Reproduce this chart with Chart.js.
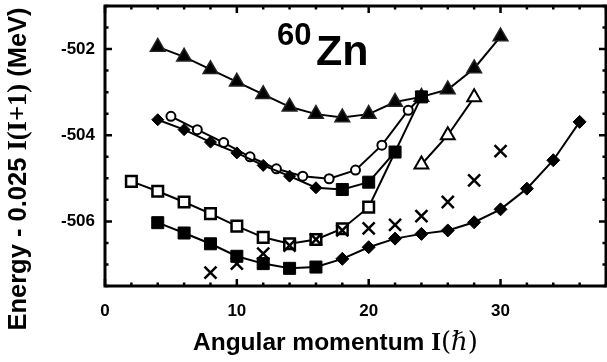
<!DOCTYPE html>
<html>
<head>
<meta charset="utf-8">
<script src="https://cdn.jsdelivr.net/npm/chart.js@4.4.0/dist/chart.umd.min.js"></script>
<style>
  html, body { margin: 0; padding: 0; background: #fff; }
</style>
</head>
<body>
<canvas id="zn60" width="607" height="362"></canvas>
<script>
// 60Zn bands: spin I (hbar) vs E - 0.025 I(I+1) (MeV)
const spinTri = [4, 6, 8, 10, 12, 14, 16, 18, 20, 22, 24, 26, 28, 30];
const energyTri = [-501.95, -502.18, -502.47, -502.76, -503.05, -503.34, -503.51, -503.59, -503.51, -503.23, -503.11, -502.94, -502.45, -501.71];

// upper band: diamonds up to 16, filled squares above
const spinUpperDia = [4, 6, 8, 10, 12, 14, 16];
const energyUpperDia = [-503.64, -503.87, -504.16, -504.41, -504.70, -504.95, -505.22];
const spinUpperSq = [18, 20, 22, 24];
const energyUpperSq = [-505.26, -505.09, -504.39, -503.11];

const spinCirc = [5, 7, 9, 11, 13, 15, 17, 19, 21, 23];
const energyCirc = [-503.56, -503.87, -504.17, -504.50, -504.78, -504.95, -505.01, -504.81, -504.23, -503.42];
const circJoin = 24;   // open circles run into the upper band here

const spinOpenSq = [2, 4, 6, 8, 10, 12, 14, 16, 18, 20];
const energyOpenSq = [-505.07, -505.30, -505.55, -505.82, -506.11, -506.37, -506.52, -506.42, -506.17, -505.67];
const openSqJoin = 22;

// lower band: filled squares up to 16, diamonds above
const spinLowerSq = [4, 6, 8, 10, 12, 14, 16];
const energyLowerSq = [-506.03, -506.27, -506.52, -506.81, -506.98, -507.09, -507.06];
const spinLowerDia = [18, 20, 22, 24, 26, 28, 30, 32, 34, 36];
const energyLowerDia = [-506.87, -506.60, -506.40, -506.29, -506.21, -506.02, -505.72, -505.24, -504.58, -503.69];

const spinCross = [8, 10, 12, 14, 16, 18, 20, 22, 24, 26, 28, 30];
const energyCross = [-507.19, -506.98, -506.75, -506.56, -506.42, -506.21, -506.16, -506.08, -505.88, -505.55, -505.05, -504.37];

const spinOpenTri = [24, 26, 28];
const energyOpenTri = [-504.68, -504.00, -503.12];

const xTicks = [0, 10, 20, 30];
const yTicks = [-506, -504, -502];

function pts(xs, ys) {
  return xs.map((x, i) => ({ x: x, y: ys[i] }));
}

const upperBand = pts(spinUpperDia, energyUpperDia).concat(pts(spinUpperSq, energyUpperSq));
const lowerBand = pts(spinLowerSq, energyLowerSq).concat(pts(spinLowerDia, energyLowerDia));
const circBand = pts(spinCirc, energyCirc).concat([{ x: circJoin, y: energyUpperSq[spinUpperSq.indexOf(circJoin)] }]);
const openSqBand = pts(spinOpenSq, energyOpenSq).concat([{ x: openSqJoin, y: energyUpperSq[spinUpperSq.indexOf(openSqJoin)] }]);

const styleFor = (n, a, b, split) => Array.from({ length: n }, (_, i) => i < split ? a : b);

const datasets = [
  {
    data: pts(spinCross, energyCross), showLine: false,
    pointStyle: 'crossRot', pointRadius: 8.5, pointBorderWidth: 2.5,
    pointBorderColor: '#000', order: 1
  },
  {
    data: pts(spinTri, energyTri),
    pointStyle: 'triangle', pointRadius: 8.5, pointBorderWidth: 1.5,
    pointBackgroundColor: '#000', pointBorderColor: '#222', order: 3
  },
  {
    data: upperBand,
    pointStyle: styleFor(upperBand.length, 'rectRot', 'rect', spinUpperDia.length),
    pointRadius: styleFor(upperBand.length, 6, 8.5, spinUpperDia.length),
    pointBorderWidth: 1, pointBackgroundColor: '#000', pointBorderColor: '#000', order: 2
  },
  {
    data: circBand,
    pointStyle: 'circle',
    pointRadius: circBand.map((p, i) => i < spinCirc.length ? 4.5 : 0),
    pointBorderWidth: 2, pointBackgroundColor: '#fff', pointBorderColor: '#000', order: 4
  },
  {
    data: openSqBand,
    pointStyle: 'rect',
    pointRadius: openSqBand.map((p, i) => i < spinOpenSq.length ? 7.5 : 0),
    pointBorderWidth: 2.5, pointBackgroundColor: '#fff', pointBorderColor: '#000', order: 5
  },
  {
    data: lowerBand,
    pointStyle: styleFor(lowerBand.length, 'rect', 'rectRot', spinLowerSq.length),
    pointRadius: styleFor(lowerBand.length, 8.5, 6.5, spinLowerSq.length),
    pointBorderWidth: 1, pointBackgroundColor: '#000', pointBorderColor: '#000', order: 6
  },
  {
    data: pts(spinOpenTri, energyOpenTri),
    pointStyle: 'triangle', pointRadius: 8, pointBorderWidth: 2,
    pointBackgroundColor: '#fff', pointBorderColor: '#000', order: 7
  }
];
datasets.forEach(d => {
  d.borderColor = '#000';
  d.borderWidth = 2;
  d.tension = 0;
  d.pointHoverRadius = d.pointRadius;
});

// draw a run of differently styled text pieces one after another
function textRun(ctx, parts, x, y) {
  parts.forEach(([t, f]) => {
    ctx.font = f;
    ctx.fillText(t, x, y);
    x += ctx.measureText(t).width;
  });
}
function runWidth(ctx, parts) {
  let w = 0;
  parts.forEach(([t, f]) => { ctx.font = f; w += ctx.measureText(t).width; });
  return w;
}

// frame with inward ticks on all four sides, title and axis captions
const frameAndText = {
  id: 'frameAndText',
  afterDraw(chart) {
    const ctx = chart.ctx;
    const a = chart.chartArea;
    const xs = chart.scales.x, ys = chart.scales.y;
    ctx.save();
    ctx.strokeStyle = '#000';
    ctx.lineCap = 'butt';

    ctx.lineWidth = 2.5;
    ctx.beginPath();
    for (let v = 0; v <= 38; v += 2) {
      const px = xs.getPixelForValue(v);
      const len = v % 10 === 0 ? 7 : 3.5;
      ctx.moveTo(px, a.bottom); ctx.lineTo(px, a.bottom - len);
      ctx.moveTo(px, a.top); ctx.lineTo(px, a.top + len);
    }
    for (let v = -507.5; v <= -501; v += 0.5) {
      const py = ys.getPixelForValue(v);
      const len = (Math.abs(v) % 2 === 0) ? 7 : 3.5;
      ctx.moveTo(a.left, py); ctx.lineTo(a.left + len, py);
      ctx.moveTo(a.right, py); ctx.lineTo(a.right - len, py);
    }
    ctx.stroke();

    ctx.lineWidth = 3;
    ctx.strokeRect(a.left, a.top, a.right - a.left, a.bottom - a.top);

    ctx.fillStyle = '#000';
    ctx.textBaseline = 'alphabetic';
    ctx.textAlign = 'left';

    // nucleus label
    ctx.font = 'bold 31px "Liberation Sans", Arial, sans-serif';
    ctx.fillText('60', 277, 45);
    ctx.font = 'bold 43px "Liberation Sans", Arial, sans-serif';
    ctx.fillText('Zn', 316, 65);

    // x caption
    textRun(ctx, [
      ['Angular momentum ', 'bold 24.5px "Liberation Sans", Arial, sans-serif'],
      ['I', 'bold 25px "Liberation Serif", "Times New Roman", serif'],
      ['(\u210F)', '26px "DejaVu Serif", "Liberation Serif", serif']
    ], 193, 350);

    // y caption, rotated
    const yParts = [
      ['Energy - 0.025 ', 'bold 25.5px "Liberation Sans", Arial, sans-serif'],
      ['I(I+1)', 'bold 26.5px "Liberation Serif", "Times New Roman", serif'],
      [' (MeV)', 'bold 25.5px "Liberation Sans", Arial, sans-serif']
    ];
    const total = runWidth(ctx, yParts);
    ctx.translate(26, 169);
    ctx.rotate(-Math.PI / 2);
    textRun(ctx, yParts, -total / 2, 0);
    ctx.restore();
  }
};

const tickFont = { family: '"Liberation Sans", Arial, sans-serif', size: 17, weight: 'bold' };

function fixBox(size, prop) {
  return s => {
    s[prop] = size;
    s.paddingTop = s.paddingBottom = s.paddingLeft = s.paddingRight = 0;
  };
}

new Chart(document.getElementById('zn60'), {
  type: 'line',
  data: { datasets: datasets },
  options: {
    responsive: false,
    animation: false,
    events: [],
    layout: { autoPadding: false, padding: { top: 6, right: 1, left: 0, bottom: 0 } },
    plugins: { legend: { display: false }, tooltip: { enabled: false } },
    scales: {
      x: {
        type: 'linear', min: 0, max: 38,
        grid: { display: false, drawTicks: false },
        border: { display: false },
        afterBuildTicks: s => { s.ticks = xTicks.map(v => ({ value: v })); },
        afterFit: fixBox(76, 'height'),
        ticks: { color: '#000', font: tickFont, padding: 15, maxRotation: 0, autoSkip: false }
      },
      y: {
        type: 'linear', min: -507.5, max: -501,
        grid: { display: false, drawTicks: false },
        border: { display: false },
        afterBuildTicks: s => { s.ticks = yTicks.map(v => ({ value: v })); },
        afterFit: fixBox(105, 'width'),
        ticks: { color: '#000', font: tickFont, padding: 10, autoSkip: false }
      }
    }
  },
  plugins: [frameAndText]
});
</script>
</body>
</html>
